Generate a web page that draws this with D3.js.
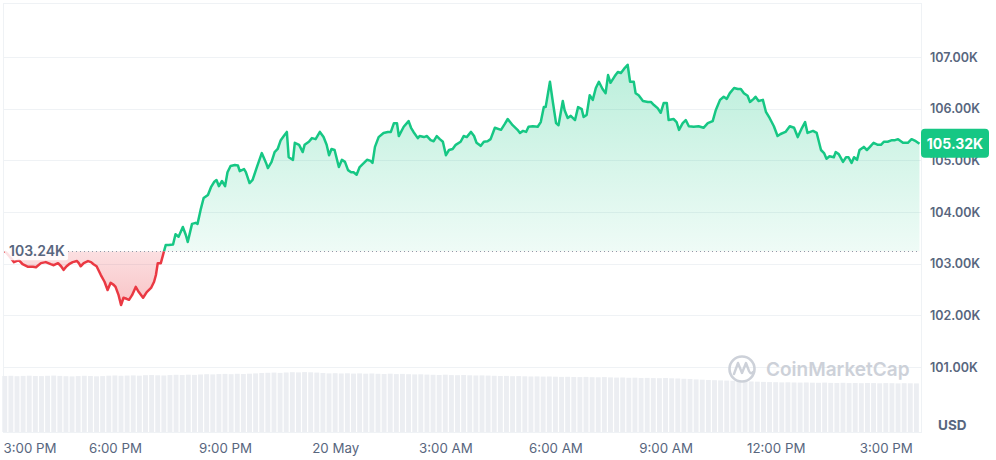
<!DOCTYPE html>
<html><head><meta charset="utf-8">
<script src="https://cdn.jsdelivr.net/npm/d3@7"></script>
<style>
html,body{margin:0;padding:0;background:#fff;}
svg{display:block;font-family:Inter, "Noto Sans", sans-serif;}
</style></head>
<body>
<svg id="chart" width="996" height="460"></svg>
<script>
// ---- data ----
const startTime = new Date(2025, 4, 19, 15, 0);
const baselinePrice = 103240;
const lastPrice = 105320;
const minutesFromStart = [0,7,15,23,29,38,46,51,59,67,75,80,87,92,96,101,105,111,118,121,124,129,136,141,145,150,157,163,168,173,178,181,186,190,194,199,203,208,214,219,226,232,239,244,247,250,255,260,263,268,275,279,284,291,296,299,306,312,315,320,325,332,337,342,346,350,355,360,364,369,376,381,384,391,394,400,405,412,420,427,430,436,441,446,451,456,461,464,471,474,481,487,490,497,502,508,515,521,526,530,534,539,546,551,556,561,566,570,575,580,587,592,598,601,605,611,619,626,631,636,641,644,652,660,664,668,675,678,685,690,696,701,706,711,716,721,726,732,737,745,750,755,762,767,771,778,783,789,794,801,811,817,822,830,838,842,847,852,856,863,871,876,881,884,891,896,901,905,912,915,920,925,932,937,943,946,951,956,961,966,971,977,982,986,990,997,1002,1007,1012,1018,1022,1028,1031,1036,1043,1051,1056,1061,1067,1072,1077,1082,1085,1093,1098,1102,1108,1113,1118,1126,1134,1142,1149,1157,1162,1169,1175,1180,1185,1192,1198,1203,1208,1214,1218,1224,1227,1232,1239,1244,1250,1257,1263,1268,1276,1283,1290,1296,1303,1308,1312,1321,1327,1334,1339,1343,1348,1355,1358,1363,1370,1375,1379,1384,1388,1393,1397,1404,1409,1414,1420,1427,1432,1437,1443,1450,1455,1460,1468,1476,1482,1489,1495];
const prices = [103240,103150,103030,103070,102990,102940,102940,102930,103010,103030,102990,102970,103010,102950,102880,102950,102990,103030,103050,103010,102950,103010,103050,103030,102990,102950,102780,102650,102490,102630,102590,102550,102390,102200,102340,102320,102300,102390,102550,102450,102340,102450,102530,102650,102780,103010,103010,103230,103360,103360,103370,103570,103520,103710,103550,103420,103770,103790,103770,104040,104270,104330,104480,104580,104620,104500,104600,104500,104770,104890,104910,104900,104790,104830,104770,104560,104620,104870,105140,104950,104850,104970,105160,105220,105390,105470,105550,105060,105010,105340,105300,105160,105300,105360,105430,105410,105550,105450,105300,105100,105220,105200,104870,105010,104970,104810,104770,104770,104720,104870,104950,105010,104990,104950,105260,105450,105530,105550,105550,105720,105720,105470,105650,105760,105630,105550,105430,105470,105450,105470,105390,105370,105470,105410,105360,105100,105200,105220,105300,105360,105470,105450,105550,105470,105340,105280,105360,105370,105410,105630,105590,105700,105800,105680,105590,105530,105570,105550,105650,105660,105650,105740,106030,106030,106520,106110,105720,105680,106150,105970,105820,105860,105780,106030,105990,105840,105880,106260,106170,106400,106520,106380,106300,106650,106500,106630,106710,106690,106770,106850,106520,106520,106300,106260,106150,106130,106130,106070,106010,105920,106110,106110,105780,105800,105740,105590,105720,105780,105660,105650,105660,105630,105720,105760,105970,106170,106230,106190,106300,106400,106380,106380,106300,106250,106130,106190,106230,106150,106170,105940,105820,105660,105470,105510,105550,105660,105630,105450,105630,105740,105530,105570,105530,105200,105140,105030,105080,105060,105160,105120,104970,105060,105060,104950,105060,105010,105200,105260,105200,105260,105340,105300,105300,105360,105360,105390,105390,105410,105340,105340,105410,105370,105320];
// 24h volume (USD billions), one bar per 10 minutes
const volumeBillions = [56.0,56.2,55.8,56.1,56.3,56.0,55.9,56.2,56.4,56.1,55.8,55.6,55.9,56.2,56.0,55.7,55.9,56.3,56.5,56.2,56.4,56.6,56.3,56.8,57.0,56.7,56.5,56.9,57.2,57.0,57.3,57.1,57.5,57.8,57.6,57.9,58.1,57.8,58.2,58.0,58.3,58.6,59.0,59.2,59.4,59.1,59.5,59.8,59.6,59.9,59.7,59.4,59.0,58.6,58.8,58.5,58.7,58.4,58.6,58.3,58.5,58.2,58.0,58.3,57.9,58.1,57.8,57.6,57.7,57.4,57.2,57.0,57.3,56.9,56.8,57.0,56.7,56.5,56.6,56.4,56.2,56.0,56.1,55.8,55.9,55.7,55.5,55.6,55.4,55.5,55.3,55.1,55.2,55.0,54.9,55.1,54.8,54.7,54.9,54.6,54.4,54.5,54.2,54.3,54.0,54.1,53.9,53.8,54.0,53.7,53.5,53.2,53.0,52.6,52.3,52.0,51.8,51.6,51.4,51.2,51.0,50.8,50.5,50.3,50.1,49.9,49.8,49.6,49.7,49.5,49.4,49.5,49.3,49.2,49.4,49.1,49.0,49.2,48.9,49.0,48.8,49.0,48.9,48.7,48.9,48.8,48.6,48.8,48.7,48.6];
const yTicks = [101000,102000,103000,104000,105000,106000,107000];
const xTickHours = [0,3,6,9,12,15,18,21,24];
const xTickLabels = ["3:00 PM","6:00 PM","9:00 PM","20 May","3:00 AM","6:00 AM","9:00 AM","12:00 PM","3:00 PM"];

// ---- build ----
const H = 3600e3;
const data = minutesFromStart.map((m,i)=>({t:new Date(+startTime + m*60e3), p:prices[i]}));
const svg = d3.select("#chart");
const plotL = 3, plotR = 922, plotT = 3, plotB = 432;

const x = d3.scaleTime().domain([startTime, new Date(+startTime + 25*H)]).range([4.8, 4.8 + 25*36.71]);
const y = d3.scaleLinear().domain([101000,107000]).range([367,57]);
const yv = d3.scaleLinear().domain([0,60]).range([plotB, 372]);
const yBase = y(baselinePrice);

const defs = svg.append("defs");
const gG = defs.append("linearGradient").attr("id","gGreen").attr("gradientUnits","userSpaceOnUse")
  .attr("x1",0).attr("x2",0).attr("y1",y(107000)).attr("y2",yBase);
gG.append("stop").attr("offset",0).attr("stop-color","#16c784").attr("stop-opacity",0.30);
gG.append("stop").attr("offset",1).attr("stop-color","#16c784").attr("stop-opacity",0.07);
const gR = defs.append("linearGradient").attr("id","gRed").attr("gradientUnits","userSpaceOnUse")
  .attr("x1",0).attr("x2",0).attr("y1",yBase).attr("y2",y(102200));
gR.append("stop").attr("offset",0).attr("stop-color","#ea3943").attr("stop-opacity",0.16);
gR.append("stop").attr("offset",1).attr("stop-color","#ea3943").attr("stop-opacity",0.30);
defs.append("clipPath").attr("id","clipUp").append("rect").attr("x",0).attr("y",0).attr("width",plotR).attr("height",yBase);
defs.append("clipPath").attr("id","clipDown").append("rect").attr("x",0).attr("y",yBase).attr("width",plotR).attr("height",plotB-yBase);

// border
svg.append("rect").attr("x",plotL+0.5).attr("y",plotT+0.5).attr("width",plotR-plotL-1).attr("height",plotB-plotT)
  .attr("fill","none").attr("stroke","#eff2f5").attr("stroke-width",1);

// grid
svg.append("g").selectAll("line").data(yTicks).join("line")
  .attr("x1",plotL).attr("x2",plotR).attr("y1",d=>Math.round(y(d))+0.5).attr("y2",d=>Math.round(y(d))+0.5)
  .attr("stroke","#eff2f5").attr("stroke-width",1);

// volume bars
const barW = x(new Date(+startTime + 10*60e3)) - x(startTime);
svg.append("g").selectAll("rect").data(volumeBillions).join("rect")
  .attr("x",(d,i)=>x(new Date(+startTime + i*10*60e3)) - 2.5)
  .attr("width",barW-1.2)
  .attr("y",d=>yv(d)).attr("height",d=>plotB - yv(d))
  .attr("fill","#eceef2");

// watermark
const wm = svg.append("g").attr("opacity",0.9);
wm.append("circle").attr("cx",742).attr("cy",369).attr("r",12.5).attr("fill","none").attr("stroke","#c8cdd5").attr("stroke-width",2.6);
wm.append("path").attr("d","M734,374 L738,363 L742,373 L746,363 L749,371 Q751,375 753,372")
  .attr("fill","none").attr("stroke","#c8cdd5").attr("stroke-width",2.4).attr("stroke-linecap","round").attr("stroke-linejoin","round");
wm.append("text").attr("x",766).attr("y",376).attr("font-size",19).attr("font-weight",600)
  .attr("fill","#c8cdd5").text("CoinMarketCap");

// areas and lines
const area = d3.area().x(d=>x(d.t)).y0(yBase).y1(d=>y(d.p));
const line = d3.line().x(d=>x(d.t)).y(d=>y(d.p));
svg.append("path").datum(data).attr("d",area).attr("fill","url(#gGreen)").attr("clip-path","url(#clipUp)");
svg.append("path").datum(data).attr("d",area).attr("fill","url(#gRed)").attr("clip-path","url(#clipDown)");
svg.append("path").datum(data).attr("d",line).attr("fill","none").attr("stroke","#16c784").attr("stroke-width",2.5)
  .attr("stroke-linejoin","round").attr("clip-path","url(#clipUp)");
svg.append("path").datum(data).attr("d",line).attr("fill","none").attr("stroke","#ea3943").attr("stroke-width",2.5)
  .attr("stroke-linejoin","round").attr("clip-path","url(#clipDown)");

// baseline dotted
svg.append("line").attr("x1",68).attr("x2",918).attr("y1",Math.round(yBase)+0.5).attr("y2",Math.round(yBase)+0.5)
  .attr("stroke","#8f98a8").attr("stroke-width",1).attr("stroke-dasharray","1,3");
// baseline label
svg.append("rect").attr("x",5).attr("y",yBase-9).attr("width",63).attr("height",18).attr("rx",2)
  .attr("fill","#fff").attr("fill-opacity",0.85);
svg.append("text").attr("x",9).attr("y",yBase).attr("dy","0.36em").attr("font-size",14).attr("font-weight",600)
  .attr("fill","#58667e").text((baselinePrice/1000).toFixed(2)+"K");

// right axis
const yAxis = d3.axisRight(y).tickValues(yTicks).tickSize(0).tickPadding(0).tickFormat(d=>(d/1000).toFixed(2)+"K");
const ya = svg.append("g").attr("transform","translate(930,0)").call(yAxis);
ya.select(".domain").remove();
ya.selectAll("text").attr("font-size",12.5).attr("font-weight",600).attr("fill","#58667e").attr("font-family","Inter, sans-serif");
svg.append("text").attr("x",938).attr("y",425).attr("dy","0.36em").attr("font-size",13.5).attr("font-weight",700)
  .attr("fill","#58667e").text("USD");

// last price tag
const yl = y(lastPrice);
svg.append("rect").attr("x",921).attr("y",yl-15).attr("width",68).attr("height",29).attr("rx",4).attr("fill","#16c784");
svg.append("text").attr("x",955).attr("y",yl).attr("dy","0.36em").attr("text-anchor","middle").attr("font-size",14)
  .attr("font-weight",700).attr("fill","#fff").text((lastPrice/1000).toFixed(2)+"K");

// bottom axis
const xTickDates = xTickHours.map(h=>new Date(+startTime + h*H));
const xAxis = d3.axisBottom(x).tickValues(xTickDates).tickSize(0).tickPadding(0)
  .tickFormat((d,i)=>xTickLabels[i]);
const xa = svg.append("g").attr("transform","translate(0,444)").call(xAxis);
xa.select(".domain").remove();
xa.selectAll("text").attr("font-size",13.3).attr("fill","#58667e").attr("font-family","Inter, sans-serif").attr("dy","0.71em")
  .attr("text-anchor",(d,i)=>i===0?"start":"middle").attr("x",(d,i)=>i===0?(3 - x(d)):0);
</script>
</body></html>
